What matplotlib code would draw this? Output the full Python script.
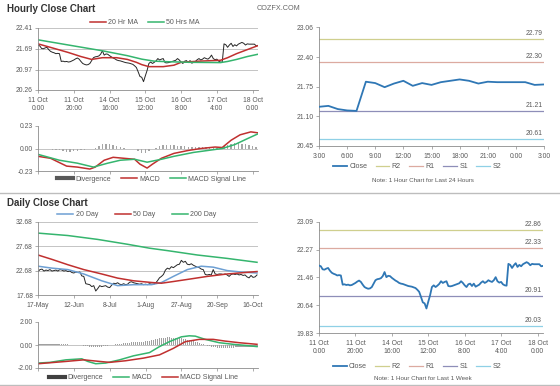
import matplotlib
matplotlib.use("Agg")
import matplotlib.pyplot as plt
from matplotlib.lines import Line2D

plt.rcParams['font.family'] = ['Liberation Sans', 'DejaVu Sans']

# ---------------- data ----------------
hour_tick_pos = [0, 20, 40, 60, 80, 100, 120]
hour_tick_labels = ["11 Oct\n0:00", "11 Oct\n20:00", "14 Oct\n16:00", "15 Oct\n12:00",
                    "16 Oct\n8:00", "17 Oct\n4:00", "18 Oct\n0:00"]
day_tick_pos = [0, 18, 36, 54, 72, 90, 108]
day_tick_labels = ["17-May", "12-Jun", "8-Jul", "1-Aug", "27-Aug", "20-Sep", "16-Oct"]
h24_tick_pos = [0, 3, 6, 9, 12, 15, 18, 21, 24]
h24_tick_labels = ["3:00", "6:00", "9:00", "12:00", "15:00", "18:00", "21:00", "0:00", "3:00"]

# hourly close, 11 Oct 0:00 .. 18 Oct 3:00 (trading hours)
hourly_close = [
    21.81, 21.79, 21.70, 21.69, 21.72, 21.74, 21.66, 21.60, 21.57, 21.55,
    21.52, 21.53, 21.52, 21.25, 21.26, 21.24, 21.25, 21.23, 21.24, 21.27,
    21.30, 21.34, 21.37, 21.33, 21.25, 21.18, 21.15, 21.13, 21.14, 21.18,
    21.28, 21.38, 21.41, 21.42, 21.44, 21.50, 21.62, 21.47, 21.51, 21.50,
    21.45, 21.41, 21.37, 21.34, 21.30, 21.28, 21.27, 21.25, 21.23, 21.21,
    21.20, 21.19, 21.17, 21.15, 21.10, 21.04, 20.89, 20.73, 20.70, 20.55,
    20.75, 20.94, 21.18, 21.23, 21.18, 21.22, 21.27, 21.35, 21.30, 21.33,
    21.35, 21.21, 21.20, 21.21, 21.23, 21.25, 21.27, 21.29, 21.35, 21.30,
    21.23, 21.18, 21.26, 21.28, 21.21, 21.28, 21.19, 21.22, 21.25, 21.31,
    21.35, 21.30, 21.33, 21.38, 21.35, 21.33, 21.38, 21.47, 21.35, 21.31,
    21.33, 21.26, 21.23, 21.22, 21.86, 21.83, 21.74, 21.82, 21.88, 21.77,
    21.83, 21.79, 21.85, 21.88, 21.91, 21.88, 21.82, 21.86, 21.85, 21.85,
    21.85, 21.85, 21.79, 21.80]

ma20h_hours = [0, 8, 17, 24, 30, 36, 44, 50, 55, 58, 62, 70, 76, 80, 90, 102, 106, 111, 117, 123]
ma20h_vals = [21.86, 21.72, 21.56, 21.42, 21.32, 21.38, 21.38, 21.32, 21.22, 21.14,
              21.07, 21.07, 21.12, 21.22, 21.26, 21.29, 21.38, 21.52, 21.66, 21.80]
ma50h_hours = [0, 17, 36, 50, 58, 65, 73, 85, 102, 106, 111, 117, 123]
ma50h_vals = [22.00, 21.82, 21.62, 21.45, 21.33, 21.26, 21.24, 21.22, 21.21, 21.25, 21.32, 21.42, 21.50]

macdh_hours = [0, 7, 16, 22, 29, 32, 37, 42, 48, 54, 57, 61, 64, 69, 76, 84, 91, 99, 103, 108, 113, 119, 123]
macdh_vals = [-0.08, -0.10, -0.18, -0.19, -0.21, -0.19, -0.12, -0.09, -0.10, -0.11, -0.16, -0.20,
              -0.16, -0.10, -0.05, -0.02, 0.00, 0.015, 0.01, 0.085, 0.14, 0.17, 0.16]
sigh_hours = [0, 12, 22, 31, 39, 46, 54, 61, 69, 76, 87, 99, 103, 110, 117, 123]
sigh_vals = [-0.06, -0.12, -0.15, -0.19, -0.15, -0.12, -0.11, -0.14, -0.11, -0.08, -0.04,
             -0.01, 0.00, 0.04, 0.10, 0.15]
divh_hours = list(range(0, 124, 2))
divh_vals = [-0.01, -0.01, -0.01, -0.01, -0.02, -0.02, -0.02, -0.03, -0.04, -0.04,
             -0.03, -0.03, -0.02, -0.02, -0.01, 0.00, 0.01, 0.03, 0.05, 0.05,
             0.05, 0.04, 0.03, 0.02, 0.01, 0.00, 0.00, -0.01, -0.03, -0.05,
             -0.05, -0.03, -0.01, 0.01, 0.03, 0.04, 0.04, 0.04, 0.04, 0.03,
             0.03, 0.03, 0.02, 0.02, 0.02, 0.02, 0.02, 0.02, 0.02, 0.01,
             0.01, 0.01, 0.03, 0.04, 0.05, 0.06, 0.06, 0.05, 0.05, 0.04,
             0.03, 0.02]

pivot_names = ["R2", "R1", "S1", "S2"]
pivot_24h = [22.79, 22.30, 21.21, 20.61]
pivot_week = [22.86, 22.33, 20.91, 20.03]

daily_close = [
    22.5, 22.9, 23.0, 22.6, 22.8, 22.7, 22.9, 22.6, 22.7, 22.8,
    22.6, 22.9, 22.8, 22.6, 22.7, 22.5, 22.6, 22.3, 22.2, 22.4,
    22.3, 22.4, 21.6, 21.5, 20.0, 19.9, 19.8, 19.4, 19.6, 18.5,
    19.0, 19.6, 19.4, 19.5, 19.6, 19.3, 19.2, 19.7, 20.1, 20.0,
    20.2, 19.9, 19.8, 20.0, 19.8, 19.9, 20.3, 20.4, 20.2, 20.1,
    20.0, 19.9, 20.0, 19.8, 19.9, 19.8, 20.0, 19.9, 19.9, 20.1,
    20.6, 21.2, 21.5, 21.9, 22.8, 23.2, 23.0, 23.5, 23.3, 23.6,
    23.9, 24.0, 24.8, 24.4, 24.6, 24.0, 23.9, 24.1, 23.8, 23.6,
    23.4, 23.3, 23.0, 22.9, 21.9, 21.8, 21.9, 21.8, 22.9, 22.0,
    21.9, 22.0, 22.0, 21.9, 22.0, 21.8, 21.5, 21.9, 22.0, 21.9,
    22.0, 21.8, 21.9, 21.7, 21.8, 21.4, 21.2, 21.7, 21.3, 21.4,
    21.8]
ma20d_days = [0, 7, 15, 23, 32, 40, 48, 57, 62, 68, 75, 82, 88, 95, 102, 110]
ma20d_vals = [23.6, 23.2, 22.9, 22.0, 20.6, 19.6, 19.8, 19.8, 20.25, 21.5, 22.9, 23.6, 23.4, 22.7, 22.4, 22.2]
ma50d_days = [0, 7, 15, 23, 32, 40, 48, 57, 62, 68, 77, 85, 95, 110]
ma50d_vals = [25.9, 25.0, 23.9, 22.9, 22.0, 21.15, 20.6, 20.25, 20.1, 20.45, 21.0, 21.5, 22.0, 22.5]
ma200d_days = [0, 15, 30, 45, 56, 65, 80, 95, 110]
ma200d_vals = [30.4, 29.9, 29.1, 28.1, 27.3, 26.8, 25.9, 25.2, 24.4]

macdd_days = [0, 6, 14, 22, 25, 29, 34, 41, 48, 56, 61, 66, 72, 76, 79, 84, 91, 98, 104, 110]
macdd_vals = [-1.57, -1.51, -1.29, -1.20, -1.43, -1.63, -1.57, -1.29, -0.94, -0.66, -0.14, 0.29,
              0.71, 0.80, 0.77, 0.49, 0.20, 0.06, -0.03, -0.14]
sigd_days = [0, 14, 23, 31, 36, 44, 53, 61, 68, 74, 81, 88, 94, 101, 110]
sigd_vals = [-1.63, -1.43, -1.29, -1.43, -1.51, -1.37, -1.14, -0.86, -0.29, 0.29, 0.49, 0.49,
             0.34, 0.20, 0.06]
divd_vals = [
    0.05, 0.05, 0.06, 0.07, 0.08, 0.08, 0.09, 0.09, 0.08, 0.08,
    0.07, 0.07, 0.06, 0.06, 0.05, 0.05, 0.04, 0.04, 0.03, 0.02,
    0.01, 0.00, -0.03, -0.06, -0.09, -0.12, -0.15, -0.17, -0.19, -0.20,
    -0.19, -0.17, -0.15, -0.12, -0.09, -0.06, -0.03, 0.00, 0.03, 0.06,
    0.08, 0.10, 0.12, 0.14, 0.16, 0.18, 0.20, 0.22, 0.24, 0.26,
    0.27, 0.28, 0.29, 0.30, 0.31, 0.33, 0.35, 0.40, 0.45, 0.50,
    0.55, 0.60, 0.62, 0.64, 0.65, 0.66, 0.66, 0.65, 0.64, 0.63,
    0.62, 0.60, 0.58, 0.54, 0.50, 0.45, 0.40, 0.36, 0.32, 0.28,
    0.22, 0.16, 0.10, 0.05, 0.00, -0.05, -0.10, -0.14, -0.18, -0.21,
    -0.23, -0.24, -0.25, -0.25, -0.25, -0.24, -0.24, -0.23, -0.22, -0.21,
    -0.20, -0.19, -0.19, -0.18, -0.18, -0.18, -0.19, -0.19, -0.20, -0.20,
    -0.20]

# ---------------- style ----------------
RED = '#c0302f'
GREEN = '#35b56e'
BLUE20 = '#6d9fd3'
CLOSE_BLUE = '#2f77b5'
PIV_COLORS = ['#cfcf8e', '#dcaaa0', '#8e8eb8', '#8fd0e6']
TXT = '#595959'
AXC = '#8c8c8c'
GRID = '#c4c4c4'
TICK_FS = 4.9
LEG_FS = 5.0

W, H = 560, 386
fig = plt.figure(figsize=(W / 100, H / 100), dpi=100)
fig.patch.set_facecolor('white')


def add_ax(x0, y0, x1, y1):
    return fig.add_axes([x0 / W, 1 - y1 / H, (x1 - x0) / W, (y1 - y0) / H])


def style(ax, ylim, yticks, grid, xlim, xticks, xlabels=None):
    ax.set_ylim(*ylim)
    ax.set_xlim(*xlim)
    ax.set_yticks(yticks)
    ax.set_yticklabels(["%.2f" % v for v in yticks])
    ax.set_xticks(xticks)
    if xlabels is None:
        ax.set_xticklabels([])
    else:
        ax.set_xticklabels(xlabels, linespacing=1.2)
    for s in ['top', 'right']:
        ax.spines[s].set_visible(False)
    for s in ['left', 'bottom']:
        ax.spines[s].set_color(AXC)
        ax.spines[s].set_linewidth(0.6)
    ax.tick_params(length=2.2, width=0.5, color=AXC, labelcolor=TXT,
                   labelsize=TICK_FS, pad=1.5)
    ax.tick_params(axis='x', pad=2.5)
    if grid:
        ax.yaxis.grid(True, color=GRID, lw=0.7)
        ax.set_axisbelow(True)
    ax.set_facecolor('none')


def legend(ax, handles, labels, anchor, colsp=1.4, hl=2.3):
    leg = ax.legend(handles, labels, loc='center', bbox_to_anchor=anchor,
                    ncol=len(handles), frameon=False, fontsize=LEG_FS,
                    handlelength=hl, handletextpad=0.35, columnspacing=colsp,
                    borderpad=0, borderaxespad=0)
    for t in leg.get_texts():
        t.set_color(TXT)
    return leg


# ---------- titles / separators ----------
fig.text(7 / W, 1 - 9 / H, "Hourly Close Chart", fontsize=7.0, fontweight='bold',
         color='#333333', va='center', ha='left')
fig.text(257 / W, 1 - 9 / H, "COZFX.COM", fontsize=5.2, color='#666666', va='center', ha='left')
fig.text(7 / W, 1 - 203 / H, "Daily Close Chart", fontsize=7.0, fontweight='bold',
         color='#333333', va='center', ha='left')
fig.add_artist(Line2D([0, 1], [1 - 193 / H] * 2, transform=fig.transFigure, color='#bdbdbd', lw=1.0))
fig.add_artist(Line2D([0, 1], [1 - 385 / H] * 2, transform=fig.transFigure, color='#bdbdbd', lw=1.0))

hours = list(range(len(hourly_close)))

# ---------- hourly price ----------
ax1 = add_ax(38, 28, 258, 90)
ax1.plot(hours, hourly_close, color='#262626', lw=0.7)
l20, = ax1.plot(ma20h_hours, ma20h_vals, color=RED, lw=1.1)
l50, = ax1.plot(ma50h_hours, ma50h_vals, color=GREEN, lw=1.1)
style(ax1, (20.26, 22.41), [20.26, 20.97, 21.69, 22.41], True, (0, 123), hour_tick_pos, hour_tick_labels)
legend(ax1, [l20, l50], ["20 Hr MA", "50 Hrs MA"], (0.486, 1.081))

# ---------- hourly MACD ----------
ax2 = add_ax(38, 126, 258, 171)
ax2.axhline(0, color=GRID, lw=0.7, zorder=0)
ax2.bar(divh_hours, divh_vals, width=0.8, color='#a6a6a6', zorder=1)
lm, = ax2.plot(macdh_hours, macdh_vals, color=RED, lw=1.1)
ls, = ax2.plot(sigh_hours, sigh_vals, color=GREEN, lw=1.1)
style(ax2, (-0.23, 0.23), [-0.23, 0.0, 0.23], False, (0, 123), hour_tick_pos)
hd = Line2D([], [], color='#595959', lw=3)
legend(ax2, [hd, lm, ls], ["Divergence", "MACD", "MACD Signal Line"], (0.518, -0.18))

# ---------- last 24 hours ----------
ax3 = add_ax(319, 27, 544, 146)
last24 = hourly_close[-25:]
lc, = ax3.plot(range(len(last24)), last24, color=CLOSE_BLUE, lw=1.3, zorder=3)
piv_handles = []
for name, val, col in zip(pivot_names, pivot_24h, PIV_COLORS):
    h, = ax3.plot([0, 24], [val, val], color=col, lw=0.9, zorder=2)
    piv_handles.append(h)
    ax3.annotate("%.2f" % val, xy=(1, val), xycoords=('axes fraction', 'data'),
                 xytext=(-1, 1.5), textcoords='offset points', ha='right', va='bottom',
                 fontsize=TICK_FS, color=TXT)
style(ax3, (20.45, 23.06), [20.45, 21.10, 21.75, 22.40, 23.06], False, (0, 24), h24_tick_pos, h24_tick_labels)
legend(ax3, [lc] + piv_handles, ["Close"] + pivot_names, (0.436, -0.176), colsp=1.2, hl=2.0)
fig.text(423 / W, 1 - 180 / H, "Note: 1 Hour Chart for Last 24 Hours", fontsize=4.5,
         color=TXT, ha='center', va='center')

# ---------- daily price ----------
days = list(range(len(daily_close)))
ax4 = add_ax(38, 222, 258, 295)
ax4.plot(days, daily_close, color='#262626', lw=0.7)
d20, = ax4.plot(ma20d_days, ma20d_vals, color=BLUE20, lw=1.1)
d50, = ax4.plot(ma50d_days, ma50d_vals, color=RED, lw=1.1)
d200, = ax4.plot(ma200d_days, ma200d_vals, color=GREEN, lw=1.1)
style(ax4, (17.68, 32.68), [17.68, 22.68, 27.68, 32.68], True, (0, 110.5), day_tick_pos, day_tick_labels)
legend(ax4, [d20, d50, d200], ["20 Day", "50 Day", "200 Day"], (0.45, 1.096), colsp=2.4)

# ---------- daily MACD ----------
ax5 = add_ax(38, 322, 258, 368)
ax5.axhline(0, color=GRID, lw=0.7, zorder=0)
ax5.bar(days, divd_vals, width=0.6, color='#a0a0a0', zorder=1)
dm, = ax5.plot(macdd_days, macdd_vals, color=GREEN, lw=1.1)
dsg, = ax5.plot(sigd_days, sigd_vals, color=RED, lw=1.1)
style(ax5, (-2.0, 2.0), [-2.0, 0.0, 2.0], False, (0, 110.5), day_tick_pos)
hd2 = Line2D([], [], color='#404040', lw=3)
legend(ax5, [hd2, dm, dsg], ["Divergence", "MACD", "MACD Signal Line"], (0.48, -0.217))

# ---------- last week hourly ----------
ax6 = add_ax(319, 222, 543, 333)
lw_, = ax6.plot(hours, hourly_close, color=CLOSE_BLUE, lw=1.3, zorder=3)
piv_handles2 = []
for name, val, col in zip(pivot_names, pivot_week, PIV_COLORS):
    h, = ax6.plot([0, 123], [val, val], color=col, lw=0.9, zorder=2)
    piv_handles2.append(h)
    ax6.annotate("%.2f" % val, xy=(1, val), xycoords=('axes fraction', 'data'),
                 xytext=(-1, 1.5), textcoords='offset points', ha='right', va='bottom',
                 fontsize=TICK_FS, color=TXT)
style(ax6, (19.83, 23.09), [19.83, 20.64, 21.46, 22.27, 23.09], False, (0, 123), hour_tick_pos, hour_tick_labels)
legend(ax6, [lw_] + piv_handles2, ["Close"] + pivot_names, (0.4375, -0.306), colsp=1.2, hl=2.0)
fig.text(423 / W, 1 - 379 / H, "Note: 1 Hour Chart for Last 1 Week", fontsize=4.5,
         color=TXT, ha='center', va='center')

fig.savefig("out.png", dpi=100, facecolor='white')
